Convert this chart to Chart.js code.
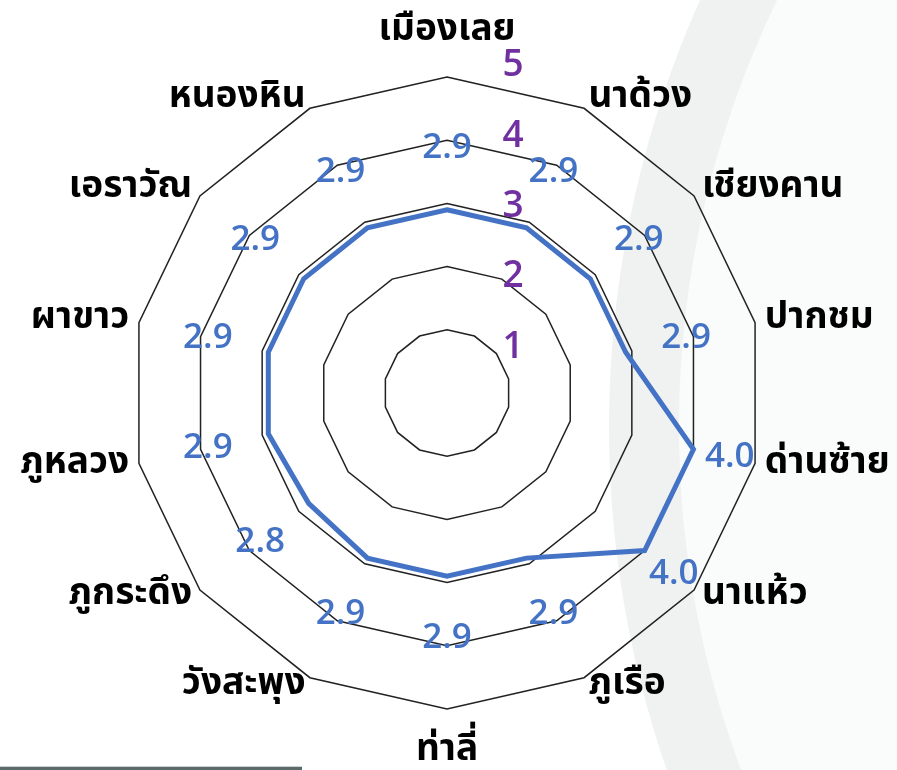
<!DOCTYPE html>
<html><head><meta charset="utf-8">
<script src="https://cdn.jsdelivr.net/npm/chart.js@4"></script>
<style>html,body{margin:0;padding:0;background:#fff;overflow:hidden}canvas{display:block}</style>
</head><body>
<canvas id="c" width="897" height="770"></canvas>
<script>
const categories = ['เมืองเลย','นาด้วง','เชียงคาน','ปากชม','ด่านซ้าย','นาแห้ว','ภูเรือ','ท่าลี่','วังสะพุง','ภูกระดึง','ภูหลวง','ผาขาว','เอราวัณ','หนองหิน'];
const scores = [2.9, 2.9, 2.9, 2.9, 4.0, 4.0, 2.9, 2.9, 2.9, 2.8, 2.9, 2.9, 2.9, 2.9];
const tickValues = [1, 2, 3, 4, 5];

const THAI_FONT = '"Noto Sans Thai","Noto Sans Thai UI","Loma","Garuda","Kinnari","Tlwg Typo","Noto Sans",sans-serif';

const bgPlugin = {
  id: 'bg',
  beforeDraw(chart) {
    const ctx = chart.ctx;
    ctx.save();
    ctx.fillStyle = '#ffffff';
    ctx.fillRect(0, 0, chart.width, chart.height);
    // decorative arc band
    ctx.beginPath();
    ctx.arc(1657, 427, 1048, 0, Math.PI * 2);
    ctx.fillStyle = '#f0f2f2';
    ctx.fill();
    ctx.beginPath();
    ctx.arc(1657, 427, 978, 0, Math.PI * 2);
    ctx.fillStyle = '#fafbfb';
    ctx.fill();
    // bottom-left rule
    ctx.fillStyle = '#cdd4d4';
    ctx.fillRect(0, 766, 302, 1);
    ctx.fillStyle = '#5c6a6a';
    ctx.fillRect(0, 767, 302, 3);
    ctx.restore();
  }
};

const labelPlugin = {
  id: 'labels',
  afterDatasetsDraw(chart) {
    const ctx = chart.ctx;
    const scale = chart.scales.r;
    const R = scale.drawingArea;
    ctx.save();
    // category labels
    ctx.fillStyle = '#000000';
    ctx.font = 'bold 37px ' + THAI_FONT;
    categories.forEach((lab, i) => {
      const p = scale.getPointPosition(i, R + 10);
      const c = Math.cos(p.angle), s = Math.sin(p.angle);
      let align = Math.abs(c) < 0.05 ? 'center' : (c > 0 ? 'left' : 'right');
      let y = p.y;
      if (align === 'center') y += s < 0 ? -34 : 34;
      ctx.textAlign = align;
      ctx.textBaseline = 'middle';
      ctx.fillText(lab, p.x, y);
    });
    // tick labels
    ctx.fillStyle = '#7030A0';
    ctx.font = '600 37px "Open Sans","Noto Sans",sans-serif';
    ctx.textAlign = 'center';
    ctx.textBaseline = 'middle';
    const d3 = scale.getDistanceFromCenterForValue(3);
    tickValues.forEach(v => {
      const d = scale.getDistanceFromCenterForValue(v);
      const y = scale.yCenter - (d3 + (d - d3) * 1.112) + 3;
      ctx.fillText(String(v), scale.xCenter + 66, y);
    });
    // data labels
    ctx.fillStyle = '#4472C4';
    ctx.font = '600 35px "Open Sans","Noto Sans",sans-serif';
    scores.forEach((v, i) => {
      const d = scale.getDistanceFromCenterForValue(v);
      const ld = Math.min(d + 62, R - 26);
      const p = scale.getPointPosition(i, ld);
      ctx.fillText(v.toFixed(1), p.x, p.y);
    });
    ctx.restore();
  }
};

new Chart(document.getElementById('c').getContext('2d'), {
  type: 'radar',
  data: {
    labels: categories,
    datasets: [{
      data: scores,
      borderColor: '#4472C4',
      borderWidth: 5,
      pointRadius: 0,
      fill: false,
      backgroundColor: 'rgba(0,0,0,0)',
      tension: 0
    }]
  },
  options: {
    responsive: false,
    animation: false,
    layout: { padding: { left: 131, right: 133, top: 77, bottom: 60 } },
    plugins: { legend: { display: false }, tooltip: { enabled: false } },
    scales: {
      r: {
        min: 0, max: 5,
        ticks: { stepSize: 1, display: false },
        grid: { color: '#222222', lineWidth: 1.5 },
        angleLines: { display: false },
        pointLabels: { display: false }
      }
    }
  },
  plugins: [bgPlugin, labelPlugin]
});
</script>
</body></html>
